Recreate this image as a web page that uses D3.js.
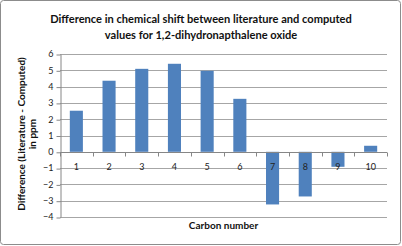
<!DOCTYPE html>
<html><head><meta charset="utf-8">
<script src="https://cdn.jsdelivr.net/npm/d3@7"></script>
<style>body{margin:0;background:#fff}svg{display:block}text{font-family:Lato,"Open Sans",sans-serif}</style>
</head><body>
<svg id="c" width="402" height="246"></svg>
<script>
const categories = ["1","2","3","4","5","6","7","8","9","10"];
const values = [2.52, 4.36, 5.09, 5.4, 4.97, 3.25, -3.23, -2.74, -0.92, 0.37];
const yTicks = [-4,-3,-2,-1,0,1,2,3,4,5,6];
const titleLines = ["Difference in chemical shift between literature and computed","values for 1,2-dihydronapthalene oxide"];
const yTitleLines = ["Difference (Literature - Computed)","in ppm"];
const xTitle = "Carbon number";

const svg = d3.select("#c");
svg.append("rect").attr("x",0.5).attr("y",0.5).attr("width",400).attr("height",244)
  .attr("rx",3).attr("fill","#fff").attr("stroke","#8c8c8c");

const L=60, R=387, T=54, B=217;
const x = d3.scaleBand().domain(categories).range([L,R]).paddingInner(0.6).paddingOuter(0.3);
const xb = d3.scaleBand().domain(categories).range([L,R]);
const y = d3.scaleLinear().domain([-4,6]).range([B,T]);

// gridlines
svg.append("g").selectAll("line").data(yTicks).join("line")
  .attr("x1",L).attr("x2",R).attr("y1",d=>Math.round(y(d))+0.5).attr("y2",d=>Math.round(y(d))+0.5)
  .attr("stroke","#a6a6a6");

// y axis
const ya = svg.append("g").attr("transform",`translate(${L+0.5},0)`)
  .call(d3.axisLeft(y).tickValues(yTicks).tickSize(4).tickSizeOuter(0).tickFormat(d3.format("d")));
ya.select(".domain").attr("stroke","#868686");
ya.selectAll(".tick line").attr("stroke","#868686").attr("transform","translate(0,0.5)");
ya.selectAll(".tick text").attr("font-size",9).attr("fill","#222").attr("x",-7).attr("font-family","Lato,'Open Sans',sans-serif");

// bars
svg.append("g").selectAll("rect").data(values).join("rect")
  .attr("x",(d,i)=>x(categories[i])).attr("width",x.bandwidth())
  .attr("y",d=>y(Math.max(0,d))).attr("height",d=>Math.abs(y(d)-y(0)))
  .attr("fill","#4f81bd");

// x axis at zero
const y0 = Math.round(y(0))+0.5;
const xa = svg.append("g").attr("transform",`translate(0,${y0})`);
xa.append("line").attr("x1",L).attr("x2",R).attr("stroke","#868686");
const bounds = categories.map(c=>xb(c)).concat([R]);
xa.selectAll("line.t").data(bounds).join("line").attr("class","t")
  .attr("x1",d=>Math.round(d)+0.5).attr("x2",d=>Math.round(d)+0.5).attr("y1",0).attr("y2",4)
  .attr("stroke","#868686");
xa.selectAll("text").data(categories).join("text")
  .attr("x",d=>xb(d)+xb.bandwidth()/2).attr("y",17.5)
  .attr("text-anchor","middle").attr("font-size",9).attr("fill","#222").text(d=>d);

// titles
svg.append("g").selectAll("text").data(titleLines).join("text")
  .attr("x",201).attr("y",(d,i)=>23+i*16).attr("text-anchor","middle")
  .attr("font-size",11.1).attr("font-weight","bold").attr("fill","#111").text(d=>d);

svg.append("g").attr("transform","translate(0,134) rotate(-90)").selectAll("text").data(yTitleLines).join("text")
  .attr("x",0).attr("y",(d,i)=>25+i*11).attr("text-anchor","middle")
  .attr("font-size",10).attr("font-weight","bold").attr("fill","#111").text(d=>d);

svg.append("text").attr("x",223.5).attr("y",229).attr("text-anchor","middle")
  .attr("font-size",10).attr("font-weight","bold").attr("fill","#111").text(xTitle);
</script>
</body></html>
